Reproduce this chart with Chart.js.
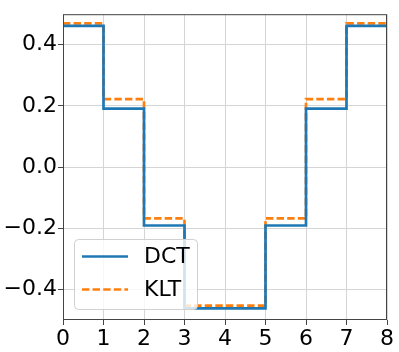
<!DOCTYPE html>
<html>
<head>
<meta charset="utf-8">
<script src="https://cdn.jsdelivr.net/npm/chart.js@4"></script>
<style>
  html, body { margin: 0; padding: 0; background: #fff; }
  #wrap { width: 399px; height: 352px; }
</style>
</head>
<body>
<div id="wrap"><canvas id="chart" width="399" height="352"></canvas></div>
<script>
// step positions and coefficient values (last value repeated for the final step)
var positions = [0, 1, 2, 3, 4, 5, 6, 7, 8];
var dctValues = [0.462, 0.191, -0.191, -0.462, -0.462, -0.191, 0.191, 0.462, 0.462];
var kltValues = [0.470, 0.222, -0.168, -0.453, -0.453, -0.168, 0.222, 0.470, 0.470];
var seriesNames = ['DCT', 'KLT'];
var xTicks = [0, 1, 2, 3, 4, 5, 6, 7, 8];
var yTicks = [-0.4, -0.2, 0.0, 0.2, 0.4];

var FONT = 'DejaVu Sans';

function toPoints(vals) {
    return positions.map(function(x, i) { return {x: x, y: vals[i]}; });
}

// frame around the plot area plus a matplotlib-like legend box
var framePlugin = {
    id: 'frame',
    afterDraw: function(chart) {
        var ctx = chart.ctx;
        var a = chart.chartArea;
        ctx.save();
        ctx.strokeStyle = '#444';
        ctx.lineWidth = 1;
        ctx.strokeRect(a.left + 0.5, a.top + 0.5, a.right - a.left - 1, a.bottom - a.top - 1);

        // legend
        var bx = a.left + 11, by = a.bottom - 81, bw = 123, bh = 70;
        ctx.fillStyle = 'rgba(255,255,255,0.8)';
        ctx.strokeStyle = '#d0d0d0';
        ctx.beginPath();
        ctx.roundRect(bx + 0.5, by + 0.5, bw, bh, 4);
        ctx.fill();
        ctx.stroke();

        var ds = chart.data.datasets;
        var rows = [by + 17.5, by + 50.5];
        ds.forEach(function(d, i) {
            ctx.strokeStyle = d.borderColor;
            ctx.lineWidth = d.borderWidth;
            ctx.setLineDash(d.borderDash || []);
            ctx.beginPath();
            ctx.moveTo(bx + 8, rows[i]);
            ctx.lineTo(bx + 54, rows[i]);
            ctx.stroke();
            ctx.setLineDash([]);
            ctx.fillStyle = '#000';
            ctx.font = '22px "' + FONT + '"';
            ctx.textBaseline = 'middle';
            ctx.fillText(d.label, bx + 70, rows[i] + 1);
        });
        ctx.restore();
    }
};

function fmt(v) {
    return Number(v).toFixed(1).replace('-', '\u2212');
}

new Chart(document.getElementById('chart'), {
    type: 'line',
    data: {
        datasets: [{
            label: seriesNames[0],
            data: toPoints(dctValues),
            stepped: 'before',
            borderColor: '#1f77b4',
            borderWidth: 2.7,
            pointRadius: 0,
            fill: false
        }, {
            label: seriesNames[1],
            data: toPoints(kltValues),
            stepped: 'before',
            borderColor: '#ff7f0e',
            borderWidth: 2.7,
            borderDash: [7.4, 3.2],
            pointRadius: 0,
            fill: false
        }]
    },
    options: {
        responsive: false,
        animation: false,
        layout: { padding: { top: 5, right: 12, left: 0, bottom: 0 } },
        plugins: {
            legend: { display: false },
            tooltip: { enabled: false }
        },
        scales: {
            x: {
                type: 'linear',
                min: 0,
                max: 8,
                afterBuildTicks: function(scale) {
                    scale.ticks = xTicks.map(function(v) { return {value: v}; });
                },
                afterFit: function(scale) { scale.height = 32; },
                ticks: {
                    color: '#000',
                    font: { family: FONT, size: 22 },
                    padding: 1,
                    maxRotation: 0,
                    callback: function(v) { return String(v); }
                },
                grid: { color: '#d5d5d5', lineWidth: 1, tickLength: 5, tickColor: '#444' },
                border: { display: false }
            },
            y: {
                type: 'linear',
                min: -0.5,
                max: 0.5,
                afterBuildTicks: function(scale) {
                    scale.ticks = yTicks.map(function(v) { return {value: v}; });
                },
                afterFit: function(scale) { scale.width = 63; },
                ticks: {
                    color: '#000',
                    font: { family: FONT, size: 22 },
                    padding: 1,
                    callback: function(v) { return fmt(v); }
                },
                grid: { color: '#d5d5d5', lineWidth: 1, tickLength: 5, tickColor: '#444' },
                border: { display: false }
            }
        }
    },
    plugins: [framePlugin]
});
</script>
</body>
</html>
